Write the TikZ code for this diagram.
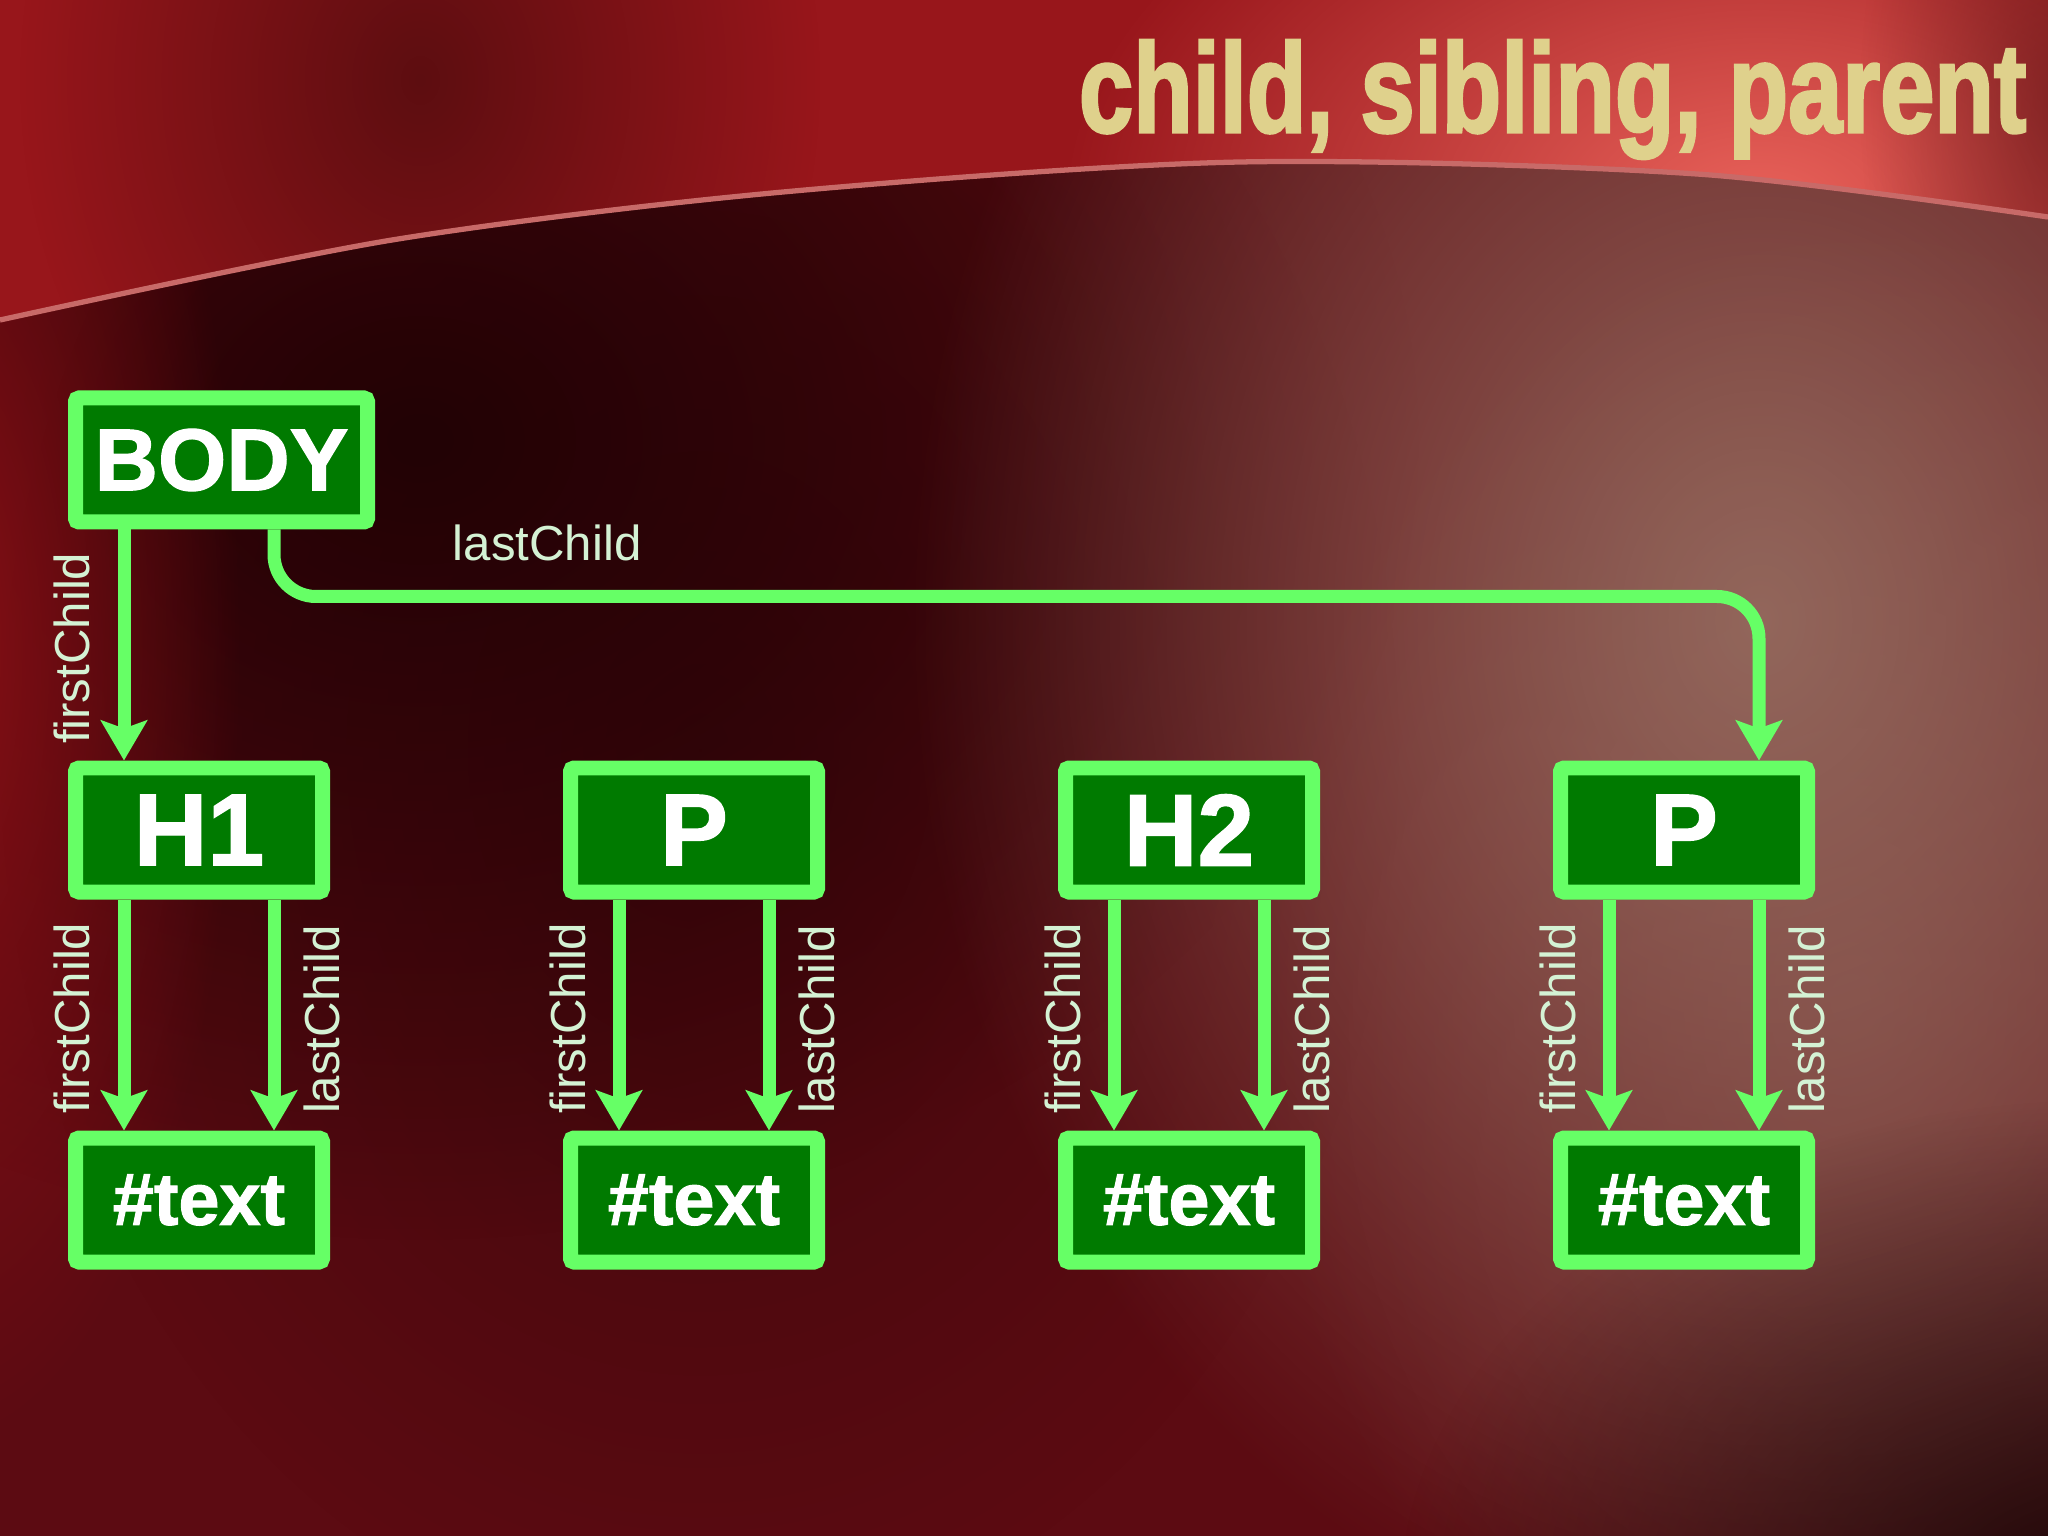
\documentclass[tikz,border=0pt]{standalone}
\usepackage{fontspec}
\setmainfont{Liberation Sans}
\newfontfamily\heavyfont[FakeBold=1.4]{Liberation Sans Bold}
\newfontfamily\titlefont[FakeBold=2.5]{Liberation Sans Bold}
\usetikzlibrary{arrows.meta,fadings,positioning}

\definecolor{bgmid}{HTML}{5C0B12}
\definecolor{bgdark}{HTML}{220205}
\definecolor{bgrose}{HTML}{93675C}
\definecolor{bgred}{HTML}{8A1016}
\definecolor{bandred}{HTML}{98161B}
\definecolor{bandglow}{HTML}{EA635B}
\definecolor{bandedge}{HTML}{C86A68}
\definecolor{nodeline}{HTML}{66FF66}
\definecolor{nodefill}{HTML}{007A00}
\definecolor{lblcolor}{HTML}{D4F2D4}
\definecolor{titlecolor}{HTML}{DFD18C}

\tikzfading[name=glowfade, inner color=transparent!0, outer color=transparent!100]

\tikzset{
  domnode/.style={draw=nodeline, fill=nodefill, line width=0.15cm, rounded corners=1pt,
    minimum width=2.47cm, minimum height=1.24cm, inner sep=0pt, text=white,
    font=\heavyfont\fontsize{29}{29}\selectfont},
  textnode/.style={domnode, font=\heavyfont\fontsize{21}{21}\selectfont},
  link/.style={draw=nodeline, line width=0.13cm,
    -{Stealth[length=0.4cm,width=0.46cm,inset=0.08cm]}},
  linklabel/.style={text=lblcolor, inner sep=0pt, font=\fontsize{14}{14}\selectfont},
  firstlabel/.style={linklabel, at end, xshift=-0.34cm, yshift=0.1cm, rotate=90, anchor=base west},
  lastlabel/.style={linklabel, at end, xshift=0.65cm, yshift=0.1cm, rotate=90, anchor=base west}
}

\begin{document}
\begin{tikzpicture}
    \useasboundingbox (0,0) rectangle (20.48,-15.36);

    % background
    \begin{scope}
    \clip (0,0) rectangle (20.48,-15.36);
    \fill[bgmid] (0,0) rectangle (20.48,-15.36);
    \fill[bgdark, path fading=glowfade] (4.2,-4.4) ellipse (10 and 8);
    \fill[bgdark, path fading=glowfade, opacity=0.5] (7,-7.5) ellipse (7 and 9);
    \fill[bgrose, path fading=glowfade] (17.6,-6.2) ellipse (8.5 and 10.5);
    \fill[bgrose, path fading=glowfade, opacity=0.5] (18.5,-10) ellipse (6 and 8);
    \fill[bgred, path fading=glowfade] (-0.6,-6.5) ellipse (3 and 8);
    \fill[black, path fading=glowfade, opacity=0.7] (21,-16) ellipse (7 and 5);

    \fill[bandred] (0,0) -- plot[smooth] coordinates {(0,-3.2) (3.92,-2.4) (7.83,-1.92) (12.4,-1.62) (16.97,-1.74) (20.48,-2.17)} -- (20.48,0) -- cycle;
    \clip (0,0) -- plot[smooth] coordinates {(0,-3.2) (3.92,-2.4) (7.83,-1.92) (12.4,-1.62) (16.97,-1.74) (20.48,-2.17)} -- (20.48,0) -- cycle;
    \fill[bandglow, path fading=glowfade] (17.6,-2.1) ellipse (7 and 4.4);
    \fill[bandred!45!black, path fading=glowfade, opacity=0.7] (4.2,-0.8) ellipse (4 and 5);
    \fill[bandred!45!black, path fading=glowfade, opacity=0.5] (20.6,-1) ellipse (2 and 4);
    \end{scope}
    \draw[bandedge, line width=1.5pt] plot[smooth] coordinates {(0,-3.2) (3.92,-2.4) (7.83,-1.92) (12.4,-1.62) (16.97,-1.74) (20.48,-2.17)};

    \node[anchor=base east, text=titlecolor, inner sep=0pt] (title) at (20.27,-1.32)
        {\scalebox{0.77}[1]{\titlefont\fontsize{36}{36}\selectfont child, sibling, parent}};

    % tree
    \node[domnode] (h1) at (1.99,-8.30) {H1};
    \node[domnode, right=2.33cm of h1] (p1) {P};
    \node[domnode, right=2.33cm of p1] (h2) {H2};
    \node[domnode, right=2.33cm of h2] (p2) {P};
    \node[domnode, minimum width=2.92cm, font=\heavyfont\fontsize{25}{25}\selectfont,
        above right=2.31cm and 0cm of h1.north west] (body) {BODY};

    \draw[link] ([xshift=-0.75cm]h1.north |- body.south) -- ([xshift=-0.75cm]h1.north)
        node[firstlabel] (bodyfirst) {firstChild};
    \draw[link, rounded corners=0.42cm] ([xshift=0.525cm]body.south) -- ++(0,-0.67)
        -| node[linklabel, pos=0.058, anchor=base west, yshift=0.36cm] (bodylast) {lastChild}
        ([xshift=0.75cm]p2.north);

    \foreach \el in {h1,p1,h2,p2}{
      \node[textnode, below=2.31cm of \el] (\el-t) {\#text};
      \draw[link] ([xshift=-0.75cm]\el.south) -- ([xshift=-0.75cm]\el-t.north)
          node[firstlabel] (\el-first) {firstChild};
      \draw[link] ([xshift=0.75cm]\el.south) -- ([xshift=0.75cm]\el-t.north)
          node[lastlabel] (\el-last) {lastChild};
    }
\end{tikzpicture}
\end{document}
